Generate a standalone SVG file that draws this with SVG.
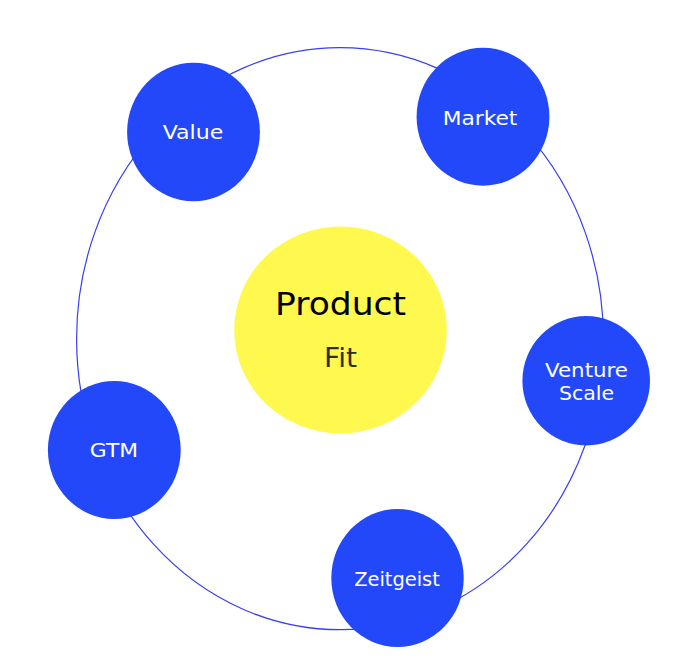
<svg xmlns="http://www.w3.org/2000/svg" width="682" height="670" viewBox="0 0 682 670">
<style>
.node{fill:#2248F9}
.lbl{font-family:"DejaVu Sans","Liberation Sans",sans-serif;font-size:20px;fill:#ffffff;text-anchor:middle}
.ring{fill:none;stroke:#3a3ef2;stroke-width:1.2}
</style>
<rect width="682" height="670" fill="#ffffff"/>
<g id="connectors">
<ellipse class="ring" cx="340" cy="338.7" rx="263.4" ry="291"/>
</g>
<g id="product">
<ellipse cx="340.5" cy="330" rx="106.3" ry="103.5" fill="#FFF84F"/>
<text x="340.5" y="315" font-family="DejaVu Sans, Liberation Sans, sans-serif" font-size="32" fill="#000000" text-anchor="middle" textLength="131" lengthAdjust="spacingAndGlyphs">Product</text>
<text x="340.5" y="366.7" font-family="DejaVu Sans, Liberation Sans, sans-serif" font-size="26" fill="#2e2e1e" text-anchor="middle" textLength="33" lengthAdjust="spacingAndGlyphs">Fit</text>
</g>
<g id="value">
<ellipse class="node" cx="193.5" cy="132" rx="66.4" ry="69.3"/>
<text class="lbl" x="193" y="139.3" textLength="60.6" lengthAdjust="spacingAndGlyphs">Value</text>
</g>
<g id="market">
<ellipse class="node" cx="483" cy="116.7" rx="66.4" ry="69"/>
<text class="lbl" x="480" y="125" textLength="74.7" lengthAdjust="spacingAndGlyphs">Market</text>
</g>
<g id="venture-scale">
<ellipse class="node" cx="586.2" cy="380.7" rx="63.8" ry="64.7"/>
<text class="lbl" x="586.5" y="377.3" textLength="83" lengthAdjust="spacingAndGlyphs">Venture</text>
<text class="lbl" x="586.5" y="400" textLength="55" lengthAdjust="spacingAndGlyphs">Scale</text>
</g>
<g id="gtm">
<ellipse class="node" cx="114.3" cy="450" rx="66.4" ry="69"/>
<text class="lbl" x="114" y="457.3" textLength="48.3" lengthAdjust="spacingAndGlyphs">GTM</text>
</g>
<g id="zeitgeist">
<ellipse class="node" cx="397.5" cy="578" rx="66.2" ry="69"/>
<text class="lbl" x="397" y="586" textLength="85.7" lengthAdjust="spacingAndGlyphs">Zeitgeist</text>
</g>
</svg>
